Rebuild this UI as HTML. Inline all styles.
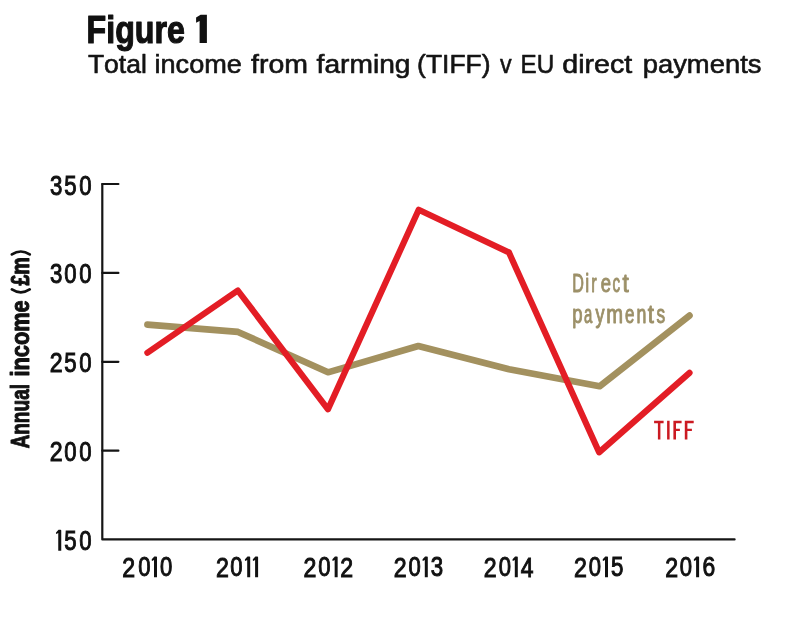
<!DOCTYPE html>
<html><head><meta charset="utf-8">
<style>
html,body{margin:0;padding:0;background:#fff;width:790px;height:636px;overflow:hidden;}
svg{position:absolute;left:0;top:0;display:block;will-change:transform;}
text{font-family:"Liberation Sans",sans-serif;font-kerning:none;font-feature-settings:"kern" 0,"liga" 0;}
</style></head><body>
<svg width="790" height="636" viewBox="0 0 790 636">
<text transform="translate(86.55,43.4) scale(0.8149,1)" font-size="39.5" font-weight="bold" fill="#111" stroke="#111" stroke-width="1.2" stroke-linejoin="round">Figure</text>
<path d="M206.9,42.9 V14.8 H200.6 L196.1,17.6 V22.8 L199.6,21.0 V42.9 Z" fill="#111"/>
<text transform="translate(87.90,72.8) scale(1.0281,1)" font-size="25.8" fill="#141414" stroke="#141414" stroke-width="0.6" stroke-linejoin="round">Total</text>
<text transform="translate(154.49,72.8) scale(1.0511,1)" font-size="25.8" fill="#141414" stroke="#141414" stroke-width="0.6" stroke-linejoin="round">income</text>
<text transform="translate(251.10,72.8) scale(1.1043,1)" font-size="25.8" fill="#141414" stroke="#141414" stroke-width="0.6" stroke-linejoin="round">from</text>
<text transform="translate(316.60,72.8) scale(1.0917,1)" font-size="25.8" fill="#141414" stroke="#141414" stroke-width="0.6" stroke-linejoin="round">farming</text>
<text transform="translate(417.06,72.8) scale(1.0273,1)" font-size="25.8" fill="#141414" stroke="#141414" stroke-width="0.6" stroke-linejoin="round">(TIFF)</text>
<text transform="translate(499.92,72.8) scale(0.9038,1)" font-size="25.8" fill="#141414" stroke="#141414" stroke-width="0.6" stroke-linejoin="round">v</text>
<text transform="translate(520.51,72.8) scale(0.9391,1)" font-size="25.8" fill="#141414" stroke="#141414" stroke-width="0.6" stroke-linejoin="round">EU</text>
<text transform="translate(562.30,72.8) scale(1.1097,1)" font-size="25.8" fill="#141414" stroke="#141414" stroke-width="0.6" stroke-linejoin="round">direct</text>
<text transform="translate(642.73,72.8) scale(1.0617,1)" font-size="25.8" fill="#141414" stroke="#141414" stroke-width="0.6" stroke-linejoin="round">payments</text>
<g stroke="#151515" stroke-width="2.2" fill="none" stroke-linecap="round" stroke-linejoin="round"><path d="M102.3 184 V539.4 H734.6"/><path d="M102.3 184 H118.4 M102.3 272.9 H118.4 M102.3 361.8 H118.4 M102.3 450.7 H118.4"/></g>
<text transform="translate(49.98,194.50) scale(0.7937,1)" font-size="28.04" fill="#111" stroke="#111" stroke-width="1.05">3</text>
<text transform="translate(64.23,194.50) scale(0.7822,1)" font-size="28.45" fill="#111" stroke="#111" stroke-width="1.05">5</text>
<text transform="translate(79.26,194.50) scale(0.7872,1)" font-size="28.04" fill="#111" stroke="#111" stroke-width="1.05">0</text>
<text transform="translate(49.98,283.30) scale(0.7937,1)" font-size="28.04" fill="#111" stroke="#111" stroke-width="1.05">3</text>
<text transform="translate(64.26,283.30) scale(0.7872,1)" font-size="28.04" fill="#111" stroke="#111" stroke-width="1.05">0</text>
<text transform="translate(79.26,283.30) scale(0.7872,1)" font-size="28.04" fill="#111" stroke="#111" stroke-width="1.05">0</text>
<text transform="translate(49.66,372.48) scale(0.8146,1)" font-size="28.43" fill="#111" stroke="#111" stroke-width="1.05">2</text>
<text transform="translate(64.23,372.20) scale(0.7822,1)" font-size="28.45" fill="#111" stroke="#111" stroke-width="1.05">5</text>
<text transform="translate(79.26,372.20) scale(0.7872,1)" font-size="28.04" fill="#111" stroke="#111" stroke-width="1.05">0</text>
<text transform="translate(49.66,461.38) scale(0.8146,1)" font-size="28.43" fill="#111" stroke="#111" stroke-width="1.05">2</text>
<text transform="translate(64.26,461.10) scale(0.7872,1)" font-size="28.04" fill="#111" stroke="#111" stroke-width="1.05">0</text>
<text transform="translate(79.26,461.10) scale(0.7872,1)" font-size="28.04" fill="#111" stroke="#111" stroke-width="1.05">0</text>
<path d="M61.25,550.7 V530.40 Q61.25,529.8 60.45,529.8 H58.55 L56.25,532.20 Q55.65,532.80 56.05,533.60 L56.35,534.10 L58.25,533.10 V550.7 Z" fill="#111"/>
<text transform="translate(64.23,549.90) scale(0.7822,1)" font-size="28.45" fill="#111" stroke="#111" stroke-width="1.05">5</text>
<text transform="translate(79.26,549.90) scale(0.7872,1)" font-size="28.04" fill="#111" stroke="#111" stroke-width="1.05">0</text>
<text transform="translate(122.31,576.68) scale(0.8271,1)" font-size="28.00" fill="#111" stroke="#111" stroke-width="1.05">2</text>
<text transform="translate(138.26,576.41) scale(0.7993,1)" font-size="27.61" fill="#111" stroke="#111" stroke-width="1.05">0</text>
<path d="M157.00,577.2 V557.20 Q157.00,556.6 156.20,556.6 H154.30 L152.00,559.00 Q151.40,559.60 151.80,560.40 L152.10,560.90 L154.00,559.90 V577.2 Z" fill="#111"/>
<text transform="translate(159.91,576.41) scale(0.7993,1)" font-size="27.61" fill="#111" stroke="#111" stroke-width="1.05">0</text>
<text transform="translate(215.96,576.68) scale(0.8271,1)" font-size="28.00" fill="#111" stroke="#111" stroke-width="1.05">2</text>
<text transform="translate(230.16,576.41) scale(0.7993,1)" font-size="27.61" fill="#111" stroke="#111" stroke-width="1.05">0</text>
<path d="M250.20,577.2 V557.20 Q250.20,556.6 249.40,556.6 H247.50 L245.20,559.00 Q244.60,559.60 245.00,560.40 L245.30,560.90 L247.20,559.90 V577.2 Z" fill="#111"/>
<path d="M258.10,577.2 V557.20 Q258.10,556.6 257.30,556.6 H255.40 L253.10,559.00 Q252.50,559.60 252.90,560.40 L253.20,560.90 L255.10,559.90 V577.2 Z" fill="#111"/>
<text transform="translate(303.56,576.68) scale(0.8271,1)" font-size="28.00" fill="#111" stroke="#111" stroke-width="1.05">2</text>
<text transform="translate(318.26,576.41) scale(0.7993,1)" font-size="27.61" fill="#111" stroke="#111" stroke-width="1.05">0</text>
<path d="M337.65,577.2 V557.20 Q337.65,556.6 336.85,556.6 H334.95 L332.65,559.00 Q332.05,559.60 332.45,560.40 L332.75,560.90 L334.65,559.90 V577.2 Z" fill="#111"/>
<text transform="translate(340.36,576.68) scale(0.8271,1)" font-size="28.00" fill="#111" stroke="#111" stroke-width="1.05">2</text>
<text transform="translate(393.86,576.68) scale(0.8271,1)" font-size="28.00" fill="#111" stroke="#111" stroke-width="1.05">2</text>
<text transform="translate(408.46,576.41) scale(0.7993,1)" font-size="27.61" fill="#111" stroke="#111" stroke-width="1.05">0</text>
<path d="M427.80,577.2 V557.20 Q427.80,556.6 427.00,556.6 H425.10 L422.80,559.00 Q422.20,559.60 422.60,560.40 L422.90,560.90 L424.80,559.90 V577.2 Z" fill="#111"/>
<text transform="translate(430.68,576.41) scale(0.8059,1)" font-size="27.61" fill="#111" stroke="#111" stroke-width="1.05">3</text>
<text transform="translate(483.86,576.68) scale(0.8271,1)" font-size="28.00" fill="#111" stroke="#111" stroke-width="1.05">2</text>
<text transform="translate(498.66,576.41) scale(0.7993,1)" font-size="27.61" fill="#111" stroke="#111" stroke-width="1.05">0</text>
<path d="M517.80,577.2 V557.20 Q517.80,556.6 517.00,556.6 H515.10 L512.80,559.00 Q512.20,559.60 512.60,560.40 L512.90,560.90 L514.80,559.90 V577.2 Z" fill="#111"/>
<text transform="translate(520.70,576.68) scale(0.8066,1)" font-size="28.42" fill="#111" stroke="#111" stroke-width="1.05">4</text>
<text transform="translate(574.06,576.68) scale(0.8271,1)" font-size="28.00" fill="#111" stroke="#111" stroke-width="1.05">2</text>
<text transform="translate(588.66,576.41) scale(0.7993,1)" font-size="27.61" fill="#111" stroke="#111" stroke-width="1.05">0</text>
<path d="M608.00,577.2 V557.20 Q608.00,556.6 607.20,556.6 H605.30 L603.00,559.00 Q602.40,559.60 602.80,560.40 L603.10,560.90 L605.00,559.90 V577.2 Z" fill="#111"/>
<text transform="translate(611.03,576.40) scale(0.7942,1)" font-size="28.02" fill="#111" stroke="#111" stroke-width="1.05">5</text>
<text transform="translate(665.16,576.68) scale(0.8271,1)" font-size="28.00" fill="#111" stroke="#111" stroke-width="1.05">2</text>
<text transform="translate(679.86,576.41) scale(0.7993,1)" font-size="27.61" fill="#111" stroke="#111" stroke-width="1.05">0</text>
<path d="M699.10,577.2 V557.20 Q699.10,556.6 698.30,556.6 H696.40 L694.10,559.00 Q693.50,559.60 693.90,560.40 L694.20,560.90 L696.10,559.90 V577.2 Z" fill="#111"/>
<text transform="translate(702.56,576.41) scale(0.8280,1)" font-size="27.61" fill="#111" stroke="#111" stroke-width="1.05">6</text>
<text transform="translate(29.0,448.58) rotate(-90) scale(0.7491,1)" font-size="25.5" font-weight="bold" fill="#111" stroke="#111" stroke-width="1.0" stroke-linejoin="round">Annual</text>
<text transform="translate(29.0,376.62) rotate(-90) scale(0.8554,1)" font-size="25.5" font-weight="bold" fill="#111" stroke="#111" stroke-width="1.0" stroke-linejoin="round">income</text>
<text transform="translate(29.0,285.60) rotate(-90) scale(0.7711,1)" font-size="25.5" font-weight="bold" fill="#111" stroke="#111" stroke-width="1.0" stroke-linejoin="round">&#163;m</text>
<path d="M11.9,254.4 Q20.8,248.6 29.7,254.4 M11.9,289.4 Q20.8,295.2 29.7,289.4" fill="none" stroke="#111" stroke-width="2.7" stroke-linecap="round"/>
<polyline fill="none" stroke="#a3915f" stroke-width="6.6" stroke-linecap="round" stroke-linejoin="round" points="147.4,324.6 238,331.9 328,372.3 418.3,346.0 509,369.3 599.6,386.3 689.5,315.6"/>
<polyline fill="none" stroke="#e31d25" stroke-width="6.2" stroke-linecap="round" stroke-linejoin="round" points="147.4,352.7 237.8,290.5 328,409.3 418.7,209.7 508.9,252.4 599.1,452.3 689.5,372.8"/>
<text transform="translate(572.15,291.8) scale(0.6450,1)" font-size="25" fill="#9c9068" stroke="#9c9068" stroke-width="0.95" stroke-linejoin="round">D</text>
<text transform="translate(585.30,291.8) scale(0.7054,1)" font-size="25" fill="#9c9068" stroke="#9c9068" stroke-width="0.95" stroke-linejoin="round">i</text>
<text transform="translate(591.20,291.8) scale(0.6480,1)" font-size="25" fill="#9c9068" stroke="#9c9068" stroke-width="0.95" stroke-linejoin="round">r</text>
<text transform="translate(600.69,291.8) scale(0.7374,1)" font-size="25" fill="#9c9068" stroke="#9c9068" stroke-width="0.95" stroke-linejoin="round">e</text>
<text transform="translate(612.53,291.8) scale(0.6077,1)" font-size="25" fill="#9c9068" stroke="#9c9068" stroke-width="0.95" stroke-linejoin="round">c</text>
<text transform="translate(622.43,291.8) scale(0.9007,1)" font-size="25" fill="#9c9068" stroke="#9c9068" stroke-width="0.95" stroke-linejoin="round">t</text>
<text transform="translate(572.18,322.7) scale(0.7427,1)" font-size="25" fill="#9c9068" stroke="#9c9068" stroke-width="0.95" stroke-linejoin="round">p</text>
<text transform="translate(583.94,322.7) scale(0.5957,1)" font-size="25" fill="#9c9068" stroke="#9c9068" stroke-width="0.95" stroke-linejoin="round">a</text>
<text transform="translate(595.43,322.7) scale(0.7223,1)" font-size="25" fill="#9c9068" stroke="#9c9068" stroke-width="0.95" stroke-linejoin="round">y</text>
<text transform="translate(606.33,322.7) scale(0.8078,1)" font-size="25" fill="#9c9068" stroke="#9c9068" stroke-width="0.95" stroke-linejoin="round">m</text>
<text transform="translate(624.96,322.7) scale(0.6777,1)" font-size="25" fill="#9c9068" stroke="#9c9068" stroke-width="0.95" stroke-linejoin="round">e</text>
<text transform="translate(636.39,322.7) scale(0.7109,1)" font-size="25" fill="#9c9068" stroke="#9c9068" stroke-width="0.95" stroke-linejoin="round">n</text>
<text transform="translate(647.74,322.7) scale(0.8850,1)" font-size="25" fill="#9c9068" stroke="#9c9068" stroke-width="0.95" stroke-linejoin="round">t</text>
<text transform="translate(656.49,322.7) scale(0.6926,1)" font-size="25" fill="#9c9068" stroke="#9c9068" stroke-width="0.95" stroke-linejoin="round">s</text>
<path fill="#cb1a22" d="M654.1,420.7 H663.6 V423.2 H660.4 V439.4 H657.9 V423.2 H654.1 Z M667.1,420.7 H669.6 V439.4 H667.1 Z M673.4,420.7 H681.6 V423.2 H676 V428.7 H679.9 V431.1 H676 V439.4 H673.4 Z M684.8,420.7 H693.7 V423.2 H687.4 V428.7 H691.9 V431.1 H687.4 V439.4 H684.8 Z"/>
</svg>
</body></html>
